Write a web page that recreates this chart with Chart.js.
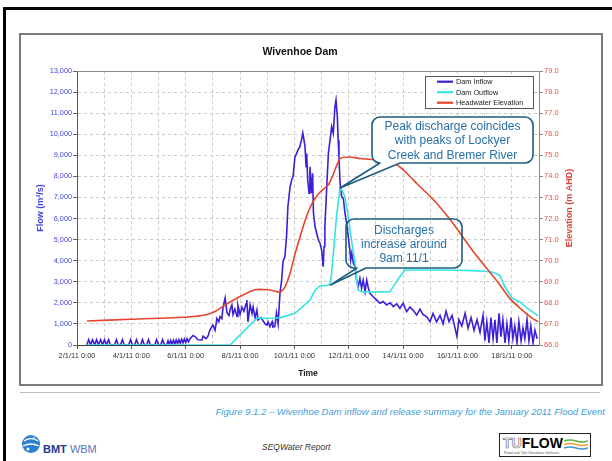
<!DOCTYPE html>
<html><head><meta charset="utf-8">
<script src="https://cdn.jsdelivr.net/npm/chart.js@4.4.0/dist/chart.umd.min.js"></script>
<style>
html,body{margin:0;padding:0;background:#fff;}
body{width:612px;height:461px;position:relative;overflow:hidden;font-family:"Liberation Sans",Arial,sans-serif;}
#outer{position:absolute;left:3px;top:7px;width:620px;height:470px;border-left:3px solid #000;border-top:3px solid #000;}
#frame{position:absolute;left:19px;top:33px;width:580px;height:349px;border:2px solid #7a7a7a;}
#cv{position:absolute;left:20px;top:34px;}
#sep{position:absolute;left:20px;top:392px;width:580px;height:1px;background:#bdbdbd;}
#caption{position:absolute;right:7px;top:406px;font-size:9.5px;font-style:italic;color:#3e9fd9;white-space:nowrap;}
#report{position:absolute;left:262px;top:442px;font-size:8.5px;font-style:italic;color:#333;white-space:nowrap;}
#bmt{position:absolute;left:21px;top:433px;height:24px;white-space:nowrap;}
#bmt svg{position:absolute;left:0;top:0;}
#bmt .t{position:absolute;left:22px;top:10px;font-size:11px;color:#1b3c8c;}
#bmt .t b{font-weight:bold;}
#bmt .t span{color:#5a78b8;font-weight:normal;}
#tuflow{position:absolute;left:499px;top:433px;width:90px;height:22px;border:1px solid #222;background:#fff;}
#tuflow .w{position:absolute;left:3px;top:1px;font-size:14px;font-weight:bold;white-space:nowrap;}
#tuflow .w span{color:#fff;-webkit-text-stroke:0.7px #777;}
#tuflow .s{position:absolute;left:4px;top:17px;font-size:3.5px;color:#666;white-space:nowrap;}
#tuflow svg{position:absolute;left:64px;top:4px;}
</style></head>
<body>
<div id="outer"></div>
<div id="frame"></div>
<canvas id="cv" width="580" height="350"></canvas>
<div id="sep"></div>
<div id="caption">Figure 9.1.2 – Wivenhoe Dam inflow and release summary for the January 2011 Flood Event</div>
<div id="bmt"><svg width="20" height="22" viewBox="0 0 20 22"><circle cx="10" cy="11" r="9" fill="#2a7fd0"/><path d="M3 8 Q10 3 17 8" stroke="#fff" stroke-width="1.3" fill="none"/><path d="M2 13 Q10 9 18 13" stroke="#fff" stroke-width="1.3" fill="none"/><circle cx="7" cy="16" r="1.5" fill="#fff"/><circle cx="13" cy="5" r="1.2" fill="#9fd0ff"/></svg><div class="t"><b>BMT</b> <span>WBM</span></div></div>
<div id="report">SEQWater Report</div>
<div id="tuflow"><div class="w"><span>TU</span>FLOW</div><svg width="24" height="12" viewBox="0 0 24 12"><path d="M0 3 Q6 1 12 3 T24 3" stroke="#5bb040" stroke-width="1.6" fill="none"/><path d="M0 6.5 Q6 4.5 12 6.5 T24 6.5" stroke="#f0a030" stroke-width="1.6" fill="none"/><path d="M0 10 Q6 8 12 10 T24 10" stroke="#4a90d0" stroke-width="1.6" fill="none"/></svg><div class="s">Flood and Tide Simulation Software</div></div>
<script>
// ---------------- DATA ----------------
const chartTitle = 'Wivenhoe Dam';
const xTitle = 'Time';
const yTitle = 'Flow (m³/s)';
const y2Title = 'Elevation (m AHD)';
const seriesNames = ['Dam Inflow', 'Dam Outflow', 'Headwater Elevation'];

const xTickDays = [2, 4, 6, 8, 10, 12, 14, 16, 18];
const xTickLabels = ['2/1/11 0:00', '4/1/11 0:00', '6/1/11 0:00', '8/1/11 0:00', '10/1/11 0:00', '12/1/11 0:00', '14/1/11 0:00', '16/1/11 0:00', '18/1/11 0:00'];

// Time expressed as day of January 2011 (decimal)
const inflowDay = [2.36,2.43,2.50,2.57,2.65,2.72,2.79,2.87,2.94,3.01,3.09,3.16,3.23,3.38,3.45,3.52,3.60,3.67,3.74,3.90,3.97,4.04,4.12,4.19,4.26,4.34,4.41,4.48,4.56,4.63,4.70,4.86,4.93,5.00,5.08,5.15,5.22,5.30,5.35,5.40,5.45,5.50,5.55,5.60,5.65,5.70,5.75,5.80,5.85,5.90,5.95,6.00,6.05,6.10,6.16,6.27,6.34,6.45,6.60,6.64,6.75,6.82,6.89,7.00,7.08,7.15,7.22,7.26,7.33,7.37,7.45,7.52,7.59,7.63,7.70,7.74,7.81,7.89,7.92,8.00,8.07,8.14,8.22,8.25,8.29,8.37,8.44,8.48,8.55,8.62,8.66,8.77,8.92,8.99,9.03,9.10,9.18,9.21,9.28,9.34,9.40,9.47,9.53,9.58,9.65,9.71,9.76,9.84,9.90,9.95,10.02,10.08,10.13,10.20,10.26,10.31,10.39,10.43,10.45,10.49,10.54,10.57,10.64,10.67,10.70,10.76,10.82,10.88,10.94,11.00,11.06,11.09,11.12,11.19,11.25,11.31,11.37,11.43,11.49,11.53,11.58,11.61,11.64,11.68,11.74,11.80,11.86,11.92,11.98,12.04,12.07,12.11,12.17,12.23,12.29,12.35,12.41,12.47,12.53,12.60,12.66,12.72,12.78,12.90,13.03,13.15,13.27,13.39,13.52,13.64,13.76,13.88,14.00,14.13,14.25,14.37,14.50,14.62,14.73,14.87,14.99,15.10,15.23,15.36,15.47,15.58,15.69,15.80,15.91,15.98,16.05,16.16,16.28,16.39,16.50,16.61,16.72,16.83,16.94,17.01,17.08,17.16,17.23,17.31,17.38,17.45,17.53,17.60,17.67,17.75,17.82,17.89,17.97,18.04,18.11,18.19,18.26,18.34,18.41,18.48,18.56,18.63,18.70,18.78,18.85,18.93];
const inflowFlow = [0,250,0,250,0,250,0,250,0,250,0,250,0,0,250,0,0,250,0,0,250,0,0,250,0,0,250,0,0,250,0,0,250,0,0,250,0,0,200,30,220,40,230,50,240,60,250,80,270,100,280,120,300,150,300,450,400,250,240,420,300,420,710,950,700,1260,1100,1345,1250,1750,2230,1520,1400,1660,1900,1450,1700,1350,1900,1450,1800,1600,1950,2130,1100,1900,1500,1800,1300,1660,1190,1300,1000,950,1100,870,1100,850,870,1520,1000,2470,3080,3950,4190,5140,6560,7500,7830,7990,8930,9090,9250,9410,9720,10050,9410,8460,9090,7830,7200,8460,7200,8150,6260,5610,5300,4980,4840,4510,3720,4660,5610,7500,9090,9720,10360,10050,11300,11620,10830,9720,8930,7670,7030,6950,6260,5790,5140,4510,4030,4350,3880,3720,3080,2770,3160,2690,3080,2530,3080,2700,2450,2290,2130,1980,2060,1900,2000,1820,1950,1740,1980,1580,1800,1650,1420,1700,1450,1340,1100,1500,1100,1400,1000,1600,1100,1400,800,400,1200,900,1500,800,1300,700,1200,600,1400,200,1100,100,1300,300,1200,100,1500,400,1200,100,1000,200,1300,300,900,100,1100,200,800,300,1200,200,900,100,700,300];

const outflowDay = [2.37,7.63,8.61,9.28,9.50,10.02,10.31,10.57,10.76,10.94,11.20,11.30,11.36,11.45,11.55,11.68,11.78,11.86,11.98,12.10,12.23,12.29,12.35,12.50,13.00,13.52,13.70,13.88,14.06,15.00,16.00,16.50,17.00,17.30,17.56,17.75,18.00,18.30,18.56,18.78,18.96];
const outflowFlow = [0,0,1265,1280,1300,1500,1830,2130,2600,2800,2830,2880,3300,4600,6100,7450,7300,7000,6090,4980,3890,3080,2600,2530,2520,2530,2900,3240,3560,3560,3550,3530,3500,3450,3300,2750,2230,2040,1750,1560,1380];

const elevDay = [2.37,3.95,6.08,6.71,7.10,7.45,8.00,8.55,9.03,9.30,9.47,9.65,9.84,10.02,10.20,10.39,10.57,10.76,10.94,11.12,11.25,11.40,11.55,11.68,12.04,12.41,12.89,13.40,13.77,14.14,14.51,14.88,15.25,15.70,16.10,16.60,17.10,17.56,17.93,18.30,18.67,18.96];
const elevLevel = [67.14,67.22,67.33,67.42,67.6,67.9,68.3,68.62,68.62,68.55,68.5,68.75,69.4,70.3,71.1,71.9,72.5,72.95,73.25,73.45,73.6,74.0,74.5,74.85,74.92,74.85,74.8,74.7,74.55,74.15,73.65,73.2,72.7,72.0,71.3,70.4,69.6,68.85,68.2,67.75,67.35,67.1];

const note1Lines = ['Peak discharge coincides', 'with peaks of Lockyer', 'Creek and Bremer River'];
const note1Tip = [11.68, 7450];
const note2Lines = ['Discharges', 'increase around', '9am 11/1'];
const note2Tip = [11.33, 2850];

// ---------------- CHART ----------------
Chart.defaults.font.family = '"Liberation Sans", Arial, sans-serif';
const pts = (xs, ys) => xs.map((d, i) => ({x: d, y: ys[i]}));

const callouts = [
  {lines: note1Lines, tip: note1Tip, box: {x: 295, y: 46, w: 161, h: 46}, base: [8, 28], fill: '#ffffff'},
  {lines: note2Lines, tip: note2Tip, box: {x: 269, y: 148, w: 116, h: 49}, base: [11, 20], fill: null}
];

function calloutPath(ctx, b, base, tip, r) {
  const x0 = b.x, y0 = b.y, x1 = b.x + b.w, y1 = b.y + b.h;
  ctx.beginPath();
  ctx.moveTo(x0 + r, y0);
  ctx.lineTo(x1 - r, y0);
  ctx.arcTo(x1, y0, x1, y0 + r, r);
  ctx.lineTo(x1, y1 - r);
  ctx.arcTo(x1, y1, x1 - r, y1, r);
  ctx.lineTo(x0 + base[1], y1);
  ctx.lineTo(tip.x, tip.y);
  ctx.lineTo(x0 + base[0], y1);
  ctx.lineTo(x0 + r, y1);
  ctx.arcTo(x0, y1, x0, y1 - r, r);
  ctx.lineTo(x0, y0 + r);
  ctx.arcTo(x0, y0, x0 + r, y0, r);
  ctx.closePath();
}

const overlay = {
  id: 'overlay',
  afterDatasetsDraw(chart) {
    const {ctx, chartArea: a, scales} = chart;
    ctx.save();
    ctx.strokeStyle = '#8a8a8a'; ctx.lineWidth = 1; ctx.setLineDash([]);
    ctx.beginPath(); ctx.moveTo(a.left, a.top + 0.5); ctx.lineTo(a.right, a.top + 0.5); ctx.stroke();

    const lw = 108, lh = 32;
    const lx = Math.round(a.right - 6 - lw), ly = Math.round(a.top + 5);
    ctx.fillStyle = '#fff'; ctx.fillRect(lx, ly, lw, lh);
    ctx.strokeStyle = '#555'; ctx.lineWidth = 1;
    ctx.strokeRect(lx + 0.5, ly + 0.5, lw, lh);
    ctx.font = '7.3px "Liberation Sans", Arial, sans-serif';
    ctx.textBaseline = 'middle'; ctx.textAlign = 'left';
    chart.data.datasets.forEach((ds, i) => {
      const y = ly + 5.7 + i * 10.5;
      ctx.strokeStyle = ds.borderColor; ctx.lineWidth = 2.2;
      ctx.beginPath(); ctx.moveTo(lx + 12, y); ctx.lineTo(lx + 28, y); ctx.stroke();
      ctx.fillStyle = '#222';
      ctx.fillText(ds.label, lx + 31, y + 0.5);
    });

    callouts.forEach(c => {
      const b = {x: a.left + c.box.x, y: a.top + c.box.y, w: c.box.w, h: c.box.h};
      const tip = {x: scales.x.getPixelForValue(c.tip[0]), y: scales.y.getPixelForValue(c.tip[1])};
      calloutPath(ctx, b, c.base, tip, 8);
      if (c.fill) { ctx.fillStyle = c.fill; ctx.fill(); }
      ctx.strokeStyle = '#1f5c7e'; ctx.lineWidth = 1.6; ctx.lineJoin = 'round';
      ctx.stroke();
      ctx.fillStyle = '#2870a8';
      ctx.font = '12px "Liberation Sans", Arial, sans-serif';
      ctx.textAlign = 'center'; ctx.textBaseline = 'middle';
      const lineH = 14.3;
      const cy = b.y + b.h / 2 + 1;
      c.lines.forEach((t, i) => {
        ctx.fillText(t, b.x + b.w / 2, cy + (i - (c.lines.length - 1) / 2) * lineH);
      });
    });

    const s2 = scales.y2;
    ctx.save();
    ctx.translate(s2.right - 10, (a.top + a.bottom) / 2);
    ctx.rotate(-Math.PI / 2);
    ctx.fillStyle = '#e0443a';
    ctx.font = 'bold 9px "Liberation Sans", Arial, sans-serif';
    ctx.textAlign = 'center'; ctx.textBaseline = 'middle';
    ctx.fillText(y2Title, 0, 0);
    ctx.restore();

    ctx.restore();
  }
};

const gridGray = '#c6c6c6';
new Chart(document.getElementById('cv'), {
  type: 'line',
  data: {
    datasets: [
      {label: seriesNames[0], data: pts(inflowDay, inflowFlow), borderColor: '#3b20d8', borderWidth: 1.6, pointRadius: 0, tension: 0, yAxisID: 'y', order: 2},
      {label: seriesNames[1], data: pts(outflowDay, outflowFlow), borderColor: '#35e3e3', borderWidth: 1.6, pointRadius: 0, tension: 0, yAxisID: 'y', order: 1},
      {label: seriesNames[2], data: pts(elevDay, elevLevel), borderColor: '#e8442c', borderWidth: 1.6, pointRadius: 0, tension: 0.2, yAxisID: 'y2', order: 0}
    ]
  },
  options: {
    responsive: false,
    animation: false,
    devicePixelRatio: 1,
    locale: 'en-US',
    layout: {padding: {left: 0, right: 20, top: 0, bottom: 0}},
    plugins: {
      legend: {display: false},
      tooltip: {enabled: false},
      title: {display: true, text: chartTitle, color: '#111', font: {size: 10.5, weight: 'bold'}, padding: {top: 11.7, bottom: 12.7}}
    },
    scales: {
      x: {
        type: 'linear', min: 2, max: 19, offset: false,
        afterFit: s => { s.height = 39; },
        ticks: {
          stepSize: 1, autoSkip: false, maxRotation: 0, minRotation: 0, padding: 2, color: '#333',
          font: {size: 7.5},
          callback: v => { const i = xTickDays.indexOf(v); return i >= 0 ? xTickLabels[i] : ''; }
        },
        grid: {color: gridGray, lineWidth: 0.9, tickLength: 4,
          tickColor: c => (c.tick && xTickDays.indexOf(c.tick.value) >= 0) ? '#444' : 'rgba(0,0,0,0)'},
        border: {display: true, color: '#444', width: 1, dash: [3, 3]},
        title: {display: true, text: xTitle, color: '#222', font: {size: 8.5, weight: 'bold'}, padding: {top: 0, bottom: 5}}
      },
      y: {
        position: 'left', min: 0, max: 13000,
        afterFit: s => { s.width = 57; },
        ticks: {stepSize: 1000, padding: 1, color: '#4646e0', font: {size: 7.3},
          callback: v => v.toLocaleString('en-US')},
        grid: {color: gridGray, lineWidth: 0.9, tickLength: 4, tickColor: '#555'},
        border: {display: true, color: '#555', width: 1, dash: [3, 3]},
        title: {display: true, text: yTitle, color: '#4040e0', font: {size: 9, weight: 'bold'}, padding: {top: 15, bottom: 0}}
      },
      y2: {
        position: 'right', min: 66, max: 79,
        afterFit: s => { s.width = 41; },
        ticks: {stepSize: 1, padding: 1, color: '#e8554a', font: {size: 7.5},
          callback: v => Number(v).toFixed(1)},
        grid: {drawOnChartArea: false, tickLength: 4, tickColor: '#888'},
        border: {display: true, color: '#8a8a8a', width: 1}
      }
    }
  },
  plugins: [overlay]
});
</script>
</body></html>
